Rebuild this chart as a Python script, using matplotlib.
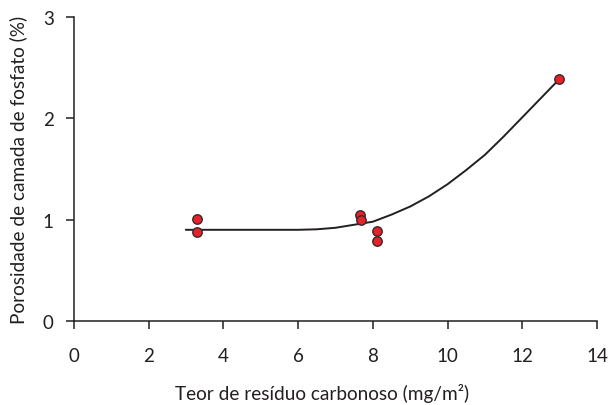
import matplotlib
matplotlib.use("Agg")
import matplotlib.pyplot as plt

# Data
pts_x = [3.3, 3.3, 7.65, 7.68, 8.12, 8.12, 12.98]
pts_y = [1.01, 0.88, 1.05, 1.00, 0.89, 0.79, 2.39]

curve_x = [3.0, 4.0, 5.0, 6.0, 6.5, 7.0, 7.5, 8.0, 8.5, 9.0, 9.5, 9.75, 10.0, 10.25, 10.5,
           10.75, 11.0, 11.25, 11.5, 11.75, 12.0, 12.25, 12.5, 12.75, 13.0]
curve_y = [0.90, 0.90, 0.90, 0.90, 0.905, 0.92, 0.95, 0.98, 1.05, 1.13, 1.23, 1.29, 1.35, 1.42,
           1.49, 1.565, 1.64, 1.73, 1.82, 1.915, 2.01, 2.105, 2.20, 2.295, 2.39]

x_ticks = [0, 2, 4, 6, 8, 10, 12, 14]
y_ticks = [0, 1, 2, 3]

xlabel = "Teor de resíduo carbonoso (mg/m²)"
ylabel = "Porosidade de camada de fosfato (%)"

plt.rcParams['font.family'] = ['Lato', 'DejaVu Sans']

fig = plt.figure(figsize=(6.1, 4.06), dpi=100)
ax = fig.add_axes([74/610, 84/406, 523/610, 304/406])

ax.plot(curve_x, curve_y, color='#231f20', lw=1.4, zorder=2)
ax.plot(pts_x, pts_y, 'o', ms=6.8, mfc='#e8202a', mec='#3a2a2a', mew=1.0, zorder=3, clip_on=False)

ax.set_xlim(0, 14)
ax.set_ylim(0, 3)
ax.set_xticks(x_ticks)
ax.set_yticks(y_ticks)
ax.set_xticklabels([str(v) for v in x_ticks])
ax.set_yticklabels([str(v) for v in y_ticks])

for s in ['top', 'right']:
    ax.spines[s].set_visible(False)
for s in ['left', 'bottom']:
    ax.spines[s].set_linewidth(1.1)
    ax.spines[s].set_color('#231f20')

ax.tick_params(axis='x', length=5.5, width=1.1, pad=13, labelsize=13.5, colors='#231f20')
ax.tick_params(axis='y', length=5.5, width=1.1, pad=9, labelsize=13.5, colors='#231f20')

ax.set_xlabel(xlabel, fontsize=13.7, labelpad=14, color='#231f20')
ax.xaxis.label.set_x(0.474)
ax.set_ylabel(ylabel, fontsize=13.7, labelpad=11, color='#231f20')

fig.savefig("out.png", dpi=100)
